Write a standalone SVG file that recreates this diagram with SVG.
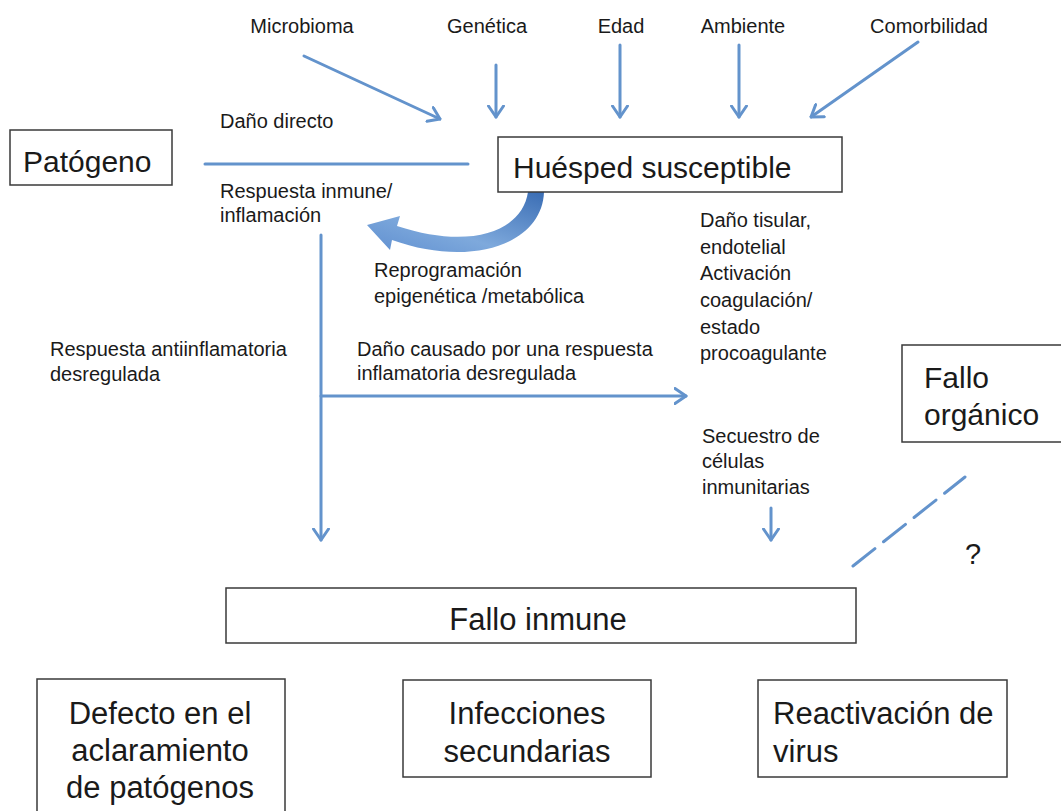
<svg xmlns="http://www.w3.org/2000/svg" width="1061" height="811" viewBox="0 0 1061 811">
<defs>
<style>
text{font-family:"Liberation Sans",Arial,sans-serif;fill:#1a1a1a}
.s{font-size:20px}
.b{font-size:30px}
.c{font-size:31px}
.box{fill:#fff;stroke:#3a3a3a;stroke-width:1.5}
.ln{fill:none;stroke:#6393cc;stroke-width:3;stroke-linecap:round}
</style>
<marker id="ah" markerUnits="userSpaceOnUse" viewBox="0 0 14 18" markerWidth="14" markerHeight="18" refX="12.5" refY="9" orient="auto">
<path d="M1.5,1.5 L12.5,9 L1.5,16.5" fill="none" stroke="#6393cc" stroke-width="3" stroke-linecap="round" stroke-linejoin="round"/>
</marker>
<linearGradient id="cg" x1="1" y1="0" x2="0" y2="1">
<stop offset="0" stop-color="#3a6db4"/>
<stop offset="0.6" stop-color="#7ea9dc"/>
<stop offset="1" stop-color="#5f8fd0"/>
</linearGradient>
</defs>
<rect width="1061" height="811" fill="#fff"/>

<g id="connectors">
<line class="ln" x1="304" y1="56" x2="440" y2="119" marker-end="url(#ah)"/>
<line class="ln" x1="496" y1="65" x2="496" y2="117" marker-end="url(#ah)"/>
<line class="ln" x1="620" y1="45" x2="620" y2="117" marker-end="url(#ah)"/>
<line class="ln" x1="739" y1="45" x2="739" y2="117" marker-end="url(#ah)"/>
<line class="ln" x1="918" y1="42" x2="811" y2="117" marker-end="url(#ah)"/>
<line class="ln" x1="205" y1="164" x2="468" y2="164"/>
<line class="ln" x1="321" y1="235" x2="321" y2="540" marker-end="url(#ah)"/>
<line class="ln" x1="321" y1="396" x2="686" y2="396" marker-end="url(#ah)"/>
<line class="ln" x1="771" y1="508" x2="771" y2="540" marker-end="url(#ah)"/>
<line class="ln" x1="853" y1="566" x2="965" y2="477" stroke-dasharray="28 11" stroke-linecap="butt"/>
<path id="curved-arrow" d="M528,192 C522,232 470,250 397,226 L400,216 L367,225 L390,250 L392,240 C470,268 542,245 544,192 Z" fill="url(#cg)"/>
</g>

<g id="n-microbioma"><text class="s" x="302" y="33" text-anchor="middle">Microbioma</text></g>
<g id="n-genetica"><text class="s" x="487" y="33" text-anchor="middle">Genética</text></g>
<g id="n-edad"><text class="s" x="621" y="33" text-anchor="middle">Edad</text></g>
<g id="n-ambiente"><text class="s" x="743" y="33" text-anchor="middle">Ambiente</text></g>
<g id="n-comorbilidad"><text class="s" x="929" y="33" text-anchor="middle">Comorbilidad</text></g>

<g id="n-patogeno">
<rect class="box" x="10" y="130" width="162" height="55"/>
<text class="b" x="23" y="172">Patógeno</text>
</g>
<g id="n-huesped">
<rect class="box" x="498" y="137" width="344" height="55"/>
<text class="b" x="513" y="178">Huésped susceptible</text>
</g>

<g id="l-dano-directo"><text class="s" x="220" y="128">Daño directo</text></g>
<g id="l-respuesta">
<text class="s" x="220" y="198">Respuesta inmune/</text>
<text class="s" x="220" y="222">inflamación</text>
</g>
<g id="l-reprogramacion">
<text class="s" x="374" y="277">Reprogramación</text>
<text class="s" x="374" y="303">epigenética /metabólica</text>
</g>
<g id="l-antiinflamatoria">
<text class="s" x="50" y="356">Respuesta antiinflamatoria</text>
<text class="s" x="50" y="381">desregulada</text>
</g>
<g id="l-dano-causado">
<text class="s" x="357" y="356">Daño causado por una respuesta</text>
<text class="s" x="357" y="380">inflamatoria desregulada</text>
</g>
<g id="l-dano-tisular">
<text class="s" x="700" y="227">Daño tisular,</text>
<text class="s" x="700" y="254">endotelial</text>
<text class="s" x="700" y="280">Activación</text>
<text class="s" x="700" y="307">coagulación/</text>
<text class="s" x="700" y="334">estado</text>
<text class="s" x="700" y="360">procoagulante</text>
</g>
<g id="l-secuestro">
<text class="s" x="702" y="443">Secuestro de</text>
<text class="s" x="702" y="468">células</text>
<text class="s" x="702" y="494">inmunitarias</text>
</g>

<g id="n-fallo-organico">
<rect class="box" x="902" y="345" width="170" height="97"/>
<text class="b" x="924" y="388">Fallo</text>
<text class="b" x="924" y="425">orgánico</text>
</g>
<g id="l-question"><text x="965" y="564" style="font-size:29px">?</text></g>

<g id="n-fallo-inmune">
<rect class="box" x="226" y="588" width="630" height="55"/>
<text class="c" x="538" y="630" text-anchor="middle">Fallo inmune</text>
</g>
<g id="n-defecto">
<rect class="box" x="37" y="679" width="248" height="150"/>
<text class="c" x="160" y="724" text-anchor="middle">Defecto en el</text>
<text class="c" x="160" y="761" text-anchor="middle">aclaramiento</text>
<text class="c" x="160" y="798" text-anchor="middle">de patógenos</text>
</g>
<g id="n-infecciones">
<rect class="box" x="403" y="680" width="248" height="97"/>
<text class="c" x="527" y="724" text-anchor="middle">Infecciones</text>
<text class="c" x="527" y="762" text-anchor="middle">secundarias</text>
</g>
<g id="n-reactivacion">
<rect class="box" x="758" y="680" width="249" height="97"/>
<text class="c" x="773" y="724">Reactivación de</text>
<text class="c" x="773" y="762">virus</text>
</g>
</svg>
